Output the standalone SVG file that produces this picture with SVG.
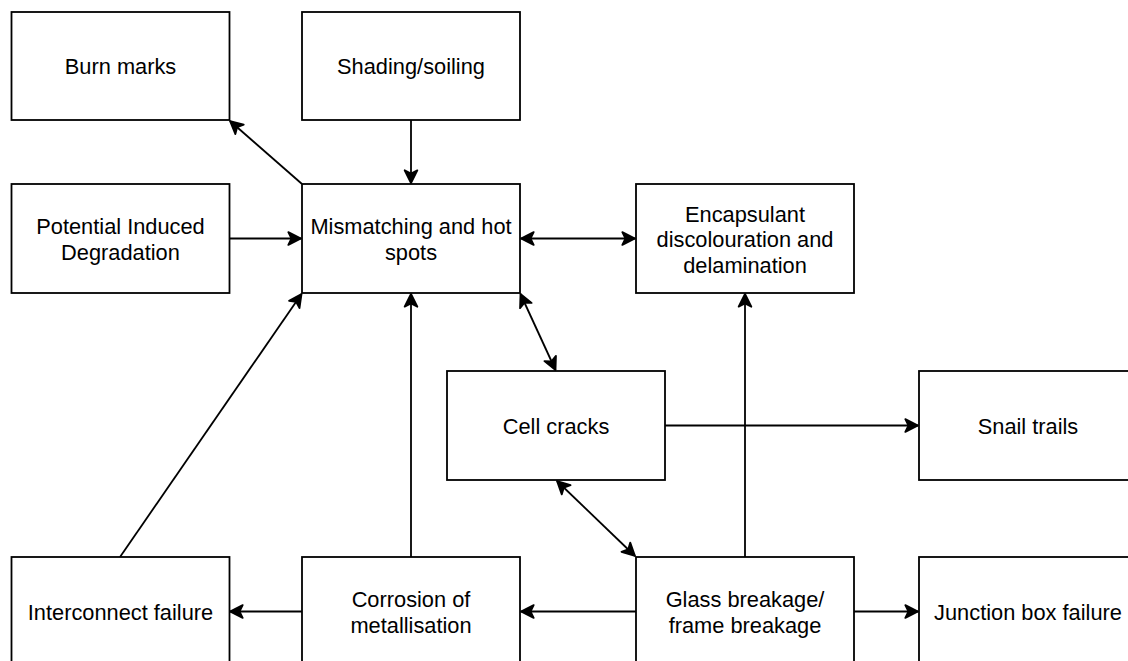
<svg xmlns="http://www.w3.org/2000/svg" width="1128" height="661" viewBox="0 0 1128 661">
<style>
.box{fill:#fff;stroke:#000;stroke-width:1.8}
.t{font-family:"Liberation Sans",Arial,Helvetica,sans-serif;font-size:21.8px;fill:#000;text-anchor:middle}
.c{fill:none;stroke:#000;stroke-width:1.8}
.e{marker-end:url(#ah)}
.b{marker-start:url(#ah);marker-end:url(#ah)}
</style>
<defs>
<marker id="ah" markerUnits="userSpaceOnUse" viewBox="-16 -9 18 18" refX="0" refY="0" markerWidth="18" markerHeight="18" orient="auto-start-reverse" overflow="visible">
<path d="M0,0 L-12.7,-6.35 L-9.5,0 L-12.7,6.35 Z" fill="#000" stroke="#000" stroke-width="1.8" stroke-linejoin="round"/>
</marker>
</defs>
<rect width="1128" height="661" fill="#fff"/>
<g id="connectors">
<path class="c e" d="M302,184 L230,121"/>
<path class="c e" d="M411,120 L411,183"/>
<path class="c e" d="M229,238.5 L301,238.5"/>
<path class="c b" d="M521,238.5 L635,238.5"/>
<path class="c b" d="M520.5,294 L555.5,370"/>
<path class="c e" d="M665,425.5 L918,425.5"/>
<path class="c b" d="M557,481 L635,556"/>
<path class="c e" d="M745,557 L745,294"/>
<path class="c e" d="M636,611.5 L521,611.5"/>
<path class="c e" d="M854,611.5 L918,611.5"/>
<path class="c e" d="M411,557 L411,294"/>
<path class="c e" d="M302,611.5 L230,611.5"/>
<path class="c e" d="M120,557 L301.5,294"/>
</g>
<g id="burn-marks">
<rect class="box" x="11.5" y="12" width="218" height="108"/>
<text class="t" x="120.5" y="74">Burn marks</text>
</g>
<g id="shading-soiling">
<rect class="box" x="302" y="12" width="218" height="108"/>
<text class="t" x="411" y="74">Shading/soiling</text>
</g>
<g id="pid">
<rect class="box" x="11.5" y="184" width="218" height="109"/>
<text class="t" x="120.5" y="234">Potential Induced</text>
<text class="t" x="120.5" y="260">Degradation</text>
</g>
<g id="mismatching">
<rect class="box" x="302" y="184" width="218" height="109"/>
<text class="t" x="411" y="234">Mismatching and hot</text>
<text class="t" x="411" y="260">spots</text>
</g>
<g id="encapsulant">
<rect class="box" x="636" y="184" width="218" height="109"/>
<text class="t" x="745" y="221.5">Encapsulant</text>
<text class="t" x="745" y="247">discolouration and</text>
<text class="t" x="745" y="272.5">delamination</text>
</g>
<g id="cell-cracks">
<rect class="box" x="447" y="371" width="218" height="109"/>
<text class="t" x="556" y="433.5">Cell cracks</text>
</g>
<g id="snail-trails">
<rect class="box" x="919" y="371" width="218" height="109"/>
<text class="t" x="1028" y="433.5">Snail trails</text>
</g>
<g id="interconnect-failure">
<rect class="box" x="11.5" y="557" width="218" height="109"/>
<text class="t" x="120.5" y="619.5">Interconnect failure</text>
</g>
<g id="corrosion">
<rect class="box" x="302" y="557" width="218" height="109"/>
<text class="t" x="411" y="607">Corrosion of</text>
<text class="t" x="411" y="632.5">metallisation</text>
</g>
<g id="glass-breakage">
<rect class="box" x="636" y="557" width="218" height="109"/>
<text class="t" x="745" y="607">Glass breakage/</text>
<text class="t" x="745" y="632.5">frame breakage</text>
</g>
<g id="junction-box">
<rect class="box" x="919" y="557" width="218" height="109"/>
<text class="t" x="1028" y="619.5">Junction box failure</text>
</g>
</svg>
